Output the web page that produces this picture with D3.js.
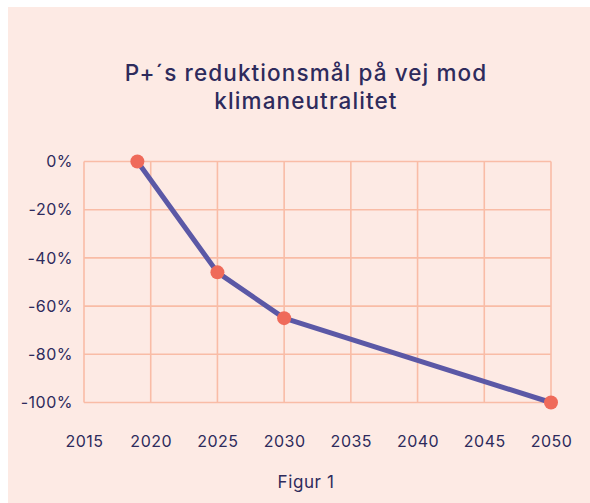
<!DOCTYPE html>
<html><head><meta charset="utf-8">
<script src="https://cdn.jsdelivr.net/npm/d3@7"></script>
<style>
html,body{margin:0;padding:0;background:#fff;}
svg{display:block;}
</style></head>
<body>
<svg id="c" width="590" height="503"></svg>
<script>
const years = [2019, 2025, 2030, 2050];
const reduction = [0, -46, -65, -100];
const xTicks = [2015, 2020, 2025, 2030, 2035, 2040, 2045, 2050];
const yTicks = [0, -20, -40, -60, -80, -100];
const titleLines = ["P+´s reduktionsmål på vej mod", "klimaneutralitet"];
const caption = "Figur 1";

const svg = d3.select("#c");
const font = "Inter, 'Noto Sans', sans-serif";
const ink = "#2e2b5c";
const gridC = "#f9bca6";

svg.append("rect").attr("x", 8).attr("y", 7).attr("width", 582).attr("height", 496).attr("fill", "#fdeae4");

const x = d3.scaleLinear().domain([2015, 2050]).range([84, 551]);
const y = d3.scaleLinear().domain([-100, 0]).range([402.5, 161.5]);

// title
svg.append("g").selectAll("text").data(titleLines).join("text")
  .attr("x", 306).attr("y", (d, i) => 81 + i * 28)
  .attr("text-anchor", "middle")
  .attr("font-family", font).attr("font-size", 22.5).attr("font-weight", 500)
  .attr("letter-spacing", 1.1)
  .attr("fill", ink).text(d => d);

// grid
const g = svg.append("g");
g.selectAll("line.v").data(xTicks).join("line").attr("class", "v")
  .attr("x1", d => x(d)).attr("x2", d => x(d))
  .attr("y1", y(0)).attr("y2", y(-100))
  .attr("stroke", gridC).attr("stroke-width", 1.6);
g.selectAll("line.h").data(yTicks).join("line").attr("class", "h")
  .attr("x1", x(2015)).attr("x2", x(2050))
  .attr("y1", d => y(d)).attr("y2", d => y(d))
  .attr("stroke", gridC).attr("stroke-width", 1.6);

// axes labels via d3 axes
const xAxis = svg.append("g").attr("transform", `translate(0,${y(-100)})`)
  .call(d3.axisBottom(x).tickValues(xTicks).tickFormat(d3.format("d")).tickSize(0).tickPadding(33));
const yAxis = svg.append("g").attr("transform", `translate(${x(2015)},0)`)
  .call(d3.axisLeft(y).tickValues(yTicks).tickFormat(d => d + "%").tickSize(0).tickPadding(11));
[xAxis, yAxis].forEach(a => {
  a.select(".domain").remove();
  a.selectAll("text").attr("font-family", font).attr("font-size", 16).attr("letter-spacing", 0.5).attr("fill", ink);
});

// line
const data = years.map((yr, i) => ({yr, v: reduction[i]}));
svg.append("path").datum(data)
  .attr("d", d3.line().x(d => x(d.yr)).y(d => y(d.v)))
  .attr("fill", "none").attr("stroke", "#5b58a6").attr("stroke-width", 5)
  .attr("stroke-linejoin", "round");
svg.append("g").selectAll("circle").data(data).join("circle")
  .attr("cx", d => x(d.yr)).attr("cy", d => y(d.v)).attr("r", 7)
  .attr("fill", "#ef6a5a");

svg.append("text").attr("x", 306).attr("y", 488).attr("text-anchor", "middle")
  .attr("font-family", font).attr("font-size", 17).attr("letter-spacing", 0.6)
  .attr("fill", ink).text(caption);
</script>
</body></html>
